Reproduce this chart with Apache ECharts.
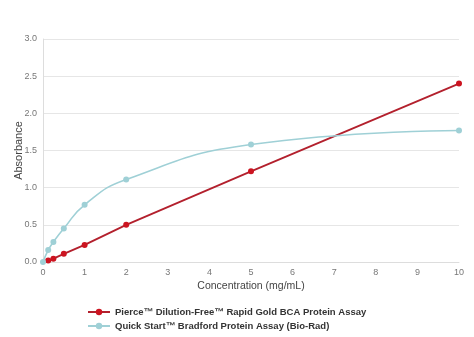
<!DOCTYPE html>
<html><head><meta charset="utf-8">
<script src="https://cdn.jsdelivr.net/npm/echarts@6/dist/echarts.min.js"></script>
<style>html,body{margin:0;padding:0;background:#fff}#c{width:474px;height:337px}</style>
</head><body><div id="c"></div>
<script>
var pierceX = [0.125, 0.25, 0.5, 1, 2, 5, 10];
var pierceY = [0.02, 0.045, 0.11, 0.23, 0.50, 1.22, 2.40];
var bradX = [0, 0.125, 0.25, 0.5, 1, 2, 5, 10];
var bradY = [0, 0.16, 0.27, 0.45, 0.77, 1.11, 1.58, 1.77];
var seriesNames = ['Pierce\u2122 Dilution-Free\u2122 Rapid Gold BCA Protein Assay', 'Quick Start\u2122 Bradford Protein Assay (Bio-Rad)'];
function pairs(xs, ys){ return xs.map(function(x,i){return [x, ys[i]];}); }
var chart = echarts.init(document.getElementById('c'));
var ff = 'Liberation Sans, Arial, sans-serif';
chart.setOption({
  animation: false,
  textStyle: {fontFamily: ff},
  grid: {left: 43, right: 15, top: 39, bottom: 75, containLabel: false, outerBoundsMode: 'none'},
  xAxis: {
    type: 'value', min: 0, max: 10, interval: 1,
    name: 'Concentration (mg/mL)', nameLocation: 'middle', nameGap: 19, nameMoveOverlap: false,
    nameTextStyle: {color: '#444', fontSize: 10.5, fontFamily: ff},
    axisLine: {show: true, lineStyle: {color: '#ddd'}},
    axisTick: {show: false},
    splitLine: {show: false},
    axisLabel: {color: '#777', fontSize: 9, margin: 6}
  },
  yAxis: {
    type: 'value', min: 0, max: 3, interval: 0.5,
    name: 'Absorbance', nameLocation: 'middle', nameGap: 19, nameMoveOverlap: false,
    nameTextStyle: {color: '#444', fontSize: 11, fontFamily: ff},
    axisLine: {show: true, lineStyle: {color: '#ddd'}},
    axisTick: {show: false},
    splitLine: {show: true, lineStyle: {color: '#e6e6e6'}},
    axisLabel: {color: '#777', fontSize: 9, margin: 6, formatter: function(v){return v.toFixed(1);}}
  },
  legend: {
    orient: 'vertical', left: 82, top: 302, itemGap: 4, itemWidth: 22, itemHeight: 8,
    textStyle: {color: '#333', fontSize: 9.5, fontWeight: 'bold', fontFamily: ff},
    data: seriesNames
  },
  series: [
    {name: seriesNames[0], type: 'line', data: pairs(pierceX, pierceY),
     symbol: 'circle', symbolSize: 6, smooth: false,
     lineStyle: {color: '#b3202d', width: 1.8}, itemStyle: {color: '#cc1420'}},
    {name: seriesNames[1], type: 'line', data: pairs(bradX, bradY),
     symbol: 'circle', symbolSize: 6, smooth: 0.5,
     lineStyle: {color: '#9fd0d6', width: 1.6}, itemStyle: {color: '#9fd0d6'}}
  ]
});
</script></body></html>
